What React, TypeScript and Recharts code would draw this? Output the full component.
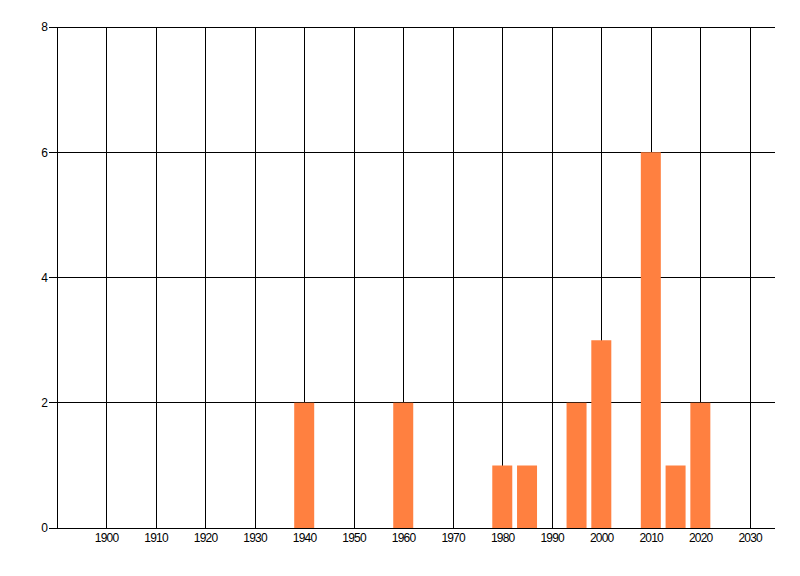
import { BarChart, Bar, XAxis, YAxis, CartesianGrid, ReferenceLine } from 'recharts';

const years = [1940, 1960, 1980, 1985, 1995, 2000, 2010, 2015, 2020];
const counts = [2, 2, 1, 1, 2, 3, 6, 1, 2];
const xTicks = [1900, 1910, 1920, 1930, 1940, 1950, 1960, 1970, 1980, 1990, 2000, 2010, 2020, 2030];
const yTicks = [0, 2, 4, 6, 8];

const data = years.map((year, i) => ({ year, count: counts[i] }));

const tickStyle = {
  fill: '#000',
  fontSize: 12,
  fontFamily: '"Liberation Sans", Arial, sans-serif',
  letterSpacing: -0.8,
};

export default function App() {
  return (
    <div style={{ position: 'absolute', left: 0, top: 0, background: '#fff' }}>
      <BarChart
        width={800}
        height={576}
        data={data}
        margin={{ top: 27, right: 25, bottom: 0, left: 0 }}
      >
        <CartesianGrid stroke="#000" strokeWidth={1} shapeRendering="crispEdges" vertical={false} />
        {xTicks.map((t) => (
          <ReferenceLine
            key={t}
            x={t}
            stroke="#000"
            strokeWidth={1}
            shapeRendering="crispEdges"
            zIndex={-50}
          />
        ))}
        <XAxis
          dataKey="year"
          type="number"
          domain={[1890, 2035]}
          ticks={xTicks}
          allowDataOverflow
          height={48}
          tickLine={false}
          tickSize={3}
          axisLine={{ stroke: '#000', shapeRendering: 'crispEdges' }}
          tick={tickStyle}
          interval={0}
        />
        <YAxis
          type="number"
          domain={[0, 8]}
          ticks={yTicks}
          width={57}
          tickSize={8}
          tickMargin={2}
          interval={0}
          axisLine={{ stroke: '#000', shapeRendering: 'crispEdges' }}
          tickLine={{ stroke: '#000', shapeRendering: 'crispEdges' }}
          tick={tickStyle}
        />
        <Bar dataKey="count" fill="#ff8040" barSize={20} isAnimationActive={false} />
      </BarChart>
    </div>
  );
}
